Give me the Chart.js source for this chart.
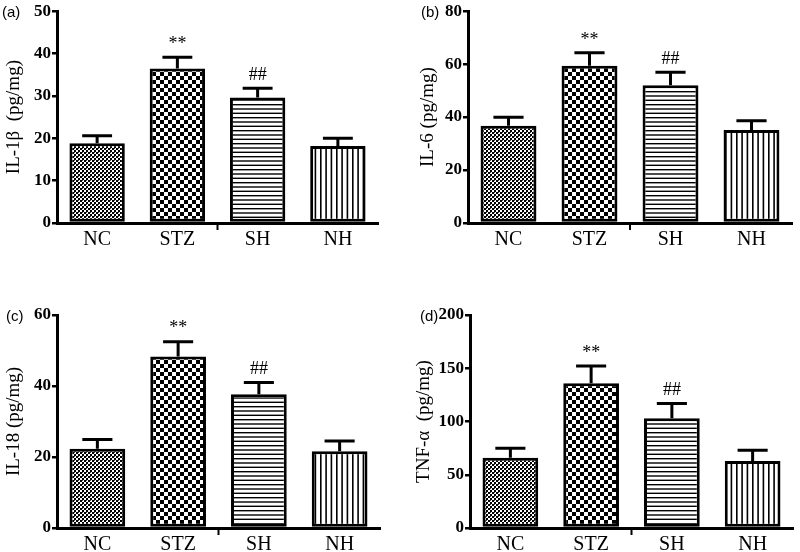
<!DOCTYPE html>
<html>
<head>
<meta charset="utf-8">
<script src="https://cdn.jsdelivr.net/npm/chart.js@4"></script>
<style>
  body { margin: 0; background: #fff; }
  #wrap { position: relative; width: 800px; height: 552px; }
  canvas { position: absolute; }
</style>
</head>
<body>
<div id="wrap">
  <canvas id="pa" width="400" height="276" style="left:0;top:0"></canvas>
  <canvas id="pb" width="400" height="276" style="left:400px;top:0"></canvas>
  <canvas id="pc" width="400" height="276" style="left:0;top:276px"></canvas>
  <canvas id="pd" width="400" height="276" style="left:400px;top:276px"></canvas>
</div>
<script>
const categories = ['NC', 'STZ', 'SH', 'NH'];
const marks = ['', '**', '##', ''];

const il1b = [18.8, 36.5, 29.6, 18.2];
const il1bErr = [20.6, 39.1, 31.8, 20.0];
const il6 = [36.7, 59.4, 52.0, 35.1];
const il6Err = [39.9, 64.3, 56.9, 38.6];
const il18 = [22.3, 48.3, 37.7, 21.6];
const il18Err = [24.9, 52.5, 41.0, 24.5];
const tnf = [66, 136, 103, 63];
const tnfErr = [75, 152, 117, 73];

const serif = '"Liberation Serif", "Times New Roman", serif';

// fill patterns for the four groups
function makePattern(w, h, draw) {
    const c = document.createElement('canvas');
    c.width = w; c.height = h;
    const g = c.getContext('2d');
    g.fillStyle = '#fff';
    g.fillRect(0, 0, w, h);
    g.fillStyle = '#000';
    draw(g);
    return g.createPattern(c, 'repeat');
}
const fineChecker = makePattern(4, 4, g => { g.fillRect(0, 0, 2, 2); g.fillRect(2, 2, 2, 2); g.fillStyle = '#444'; g.fillRect(2, 0, 1, 1); });
const coarseChecker = makePattern(8, 8, g => { g.fillRect(0, 0, 4, 4); g.fillRect(4, 4, 4, 4); });
const hLines = makePattern(4, 13, g => { g.fillRect(0, 0, 4, 1.4); g.fillRect(0, 4.3, 4, 1.4); g.fillRect(0, 8.6, 4, 1.4); });
const vLines = makePattern(16, 4, g => { g.fillRect(0, 0, 1.6, 4); g.fillRect(5.3, 0, 1.6, 4); g.fillRect(10.6, 0, 1.6, 4); });
const fills = [fineChecker, coarseChecker, hLines, vLines];

const errorBars = {
    id: 'errorBars',
    afterDatasetsDraw(chart, args, opts) {
        const ctx = chart.ctx;
        const y = chart.scales.y;
        const meta = chart.getDatasetMeta(0);
        ctx.save();
        ctx.strokeStyle = '#000';
        ctx.lineWidth = 3;
        meta.data.forEach((bar, i) => {
            const top = y.getPixelForValue(opts.errors[i]);
            const half = bar.width * 0.27;
            ctx.beginPath();
            ctx.moveTo(bar.x, bar.y);
            ctx.lineTo(bar.x, top);
            ctx.moveTo(bar.x - half, top);
            ctx.lineTo(bar.x + half, top);
            ctx.stroke();
            if (opts.marks[i]) {
                ctx.fillStyle = '#000';
                ctx.font = '18px ' + serif;
                ctx.textAlign = 'center';
                ctx.textBaseline = 'middle';
                ctx.fillText(opts.marks[i], bar.x, top - 13);
            }
        });
        // small tick under the middle of the x axis
        const a = chart.chartArea;
        const mid = (a.left + a.right) / 2;
        ctx.lineWidth = 2;
        ctx.beginPath();
        ctx.moveTo(mid, a.bottom);
        ctx.lineTo(mid, a.bottom + 7);
        ctx.stroke();
        // panel letter
        ctx.font = '15px "Liberation Sans", Arial, sans-serif';
        ctx.textAlign = 'left';
        ctx.textBaseline = 'middle';
        ctx.fillText(opts.letter, opts.letterX, a.top + 2);
        ctx.restore();
    }
};

function makePanel(id, letter, letterX, title, values, errors, max, step, box) {
    new Chart(document.getElementById(id), {
        type: 'bar',
        data: {
            labels: categories,
            datasets: [{
                data: values,
                backgroundColor: fills,
                borderColor: '#000',
                borderWidth: 3,
                borderSkipped: false,
                categoryPercentage: 1,
                barPercentage: 0.69
            }]
        },
        options: {
            responsive: false,
            animation: false,
            events: [],
            layout: {
                autoPadding: false,
                padding: { left: 0, top: box.top, right: 400 - box.right, bottom: 0 }
            },
            plugins: {
                legend: { display: false },
                tooltip: { enabled: false },
                errorBars: { errors: errors, marks: marks, letter: letter, letterX: letterX }
            },
            scales: {
                x: {
                    afterFit: s => { s.height = 276 - box.bottom; },
                    grid: { display: false },
                    border: { display: true, color: '#000', width: 3 },
                    ticks: { color: '#000', padding: -3, font: { family: serif, size: 20 } }
                },
                y: {
                    min: 0,
                    max: max,
                    afterFit: s => { s.width = box.left; },
                    grid: { display: true, drawOnChartArea: false, drawTicks: true, tickLength: 5, color: '#000', lineWidth: 2.5 },
                    border: { display: true, color: '#000', width: 3 },
                    ticks: { stepSize: step, color: '#000', padding: 1, font: { family: serif, size: 17, weight: 'bold' } },
                    title: {
                        display: true,
                        text: title,
                        color: '#000',
                        padding: { top: box.titleX - 11.4, bottom: 0 },
                        font: { family: serif, size: 19 }
                    }
                }
            }
        },
        plugins: [errorBars]
    });
}

makePanel('pa', '(a)', 2, 'IL-1β  (pg/mg)', il1b, il1bErr, 50, 10, { left: 57, top: 11, bottom: 223, right: 378, titleX: 14 });
makePanel('pb', '(b)', 21, 'IL-6 (pg/mg)', il6, il6Err, 80, 20, { left: 68, top: 11, bottom: 223, right: 392, titleX: 28 });
makePanel('pc', '(c)', 6, 'IL-18 (pg/mg)', il18, il18Err, 60, 20, { left: 57, top: 39, bottom: 252, right: 380, titleX: 14 });
makePanel('pd', '(d)', 20, 'TNF-α  (pg/mg)', tnf, tnfErr, 200, 50, { left: 70, top: 39, bottom: 252, right: 393, titleX: 24 });
</script>
</body>
</html>
